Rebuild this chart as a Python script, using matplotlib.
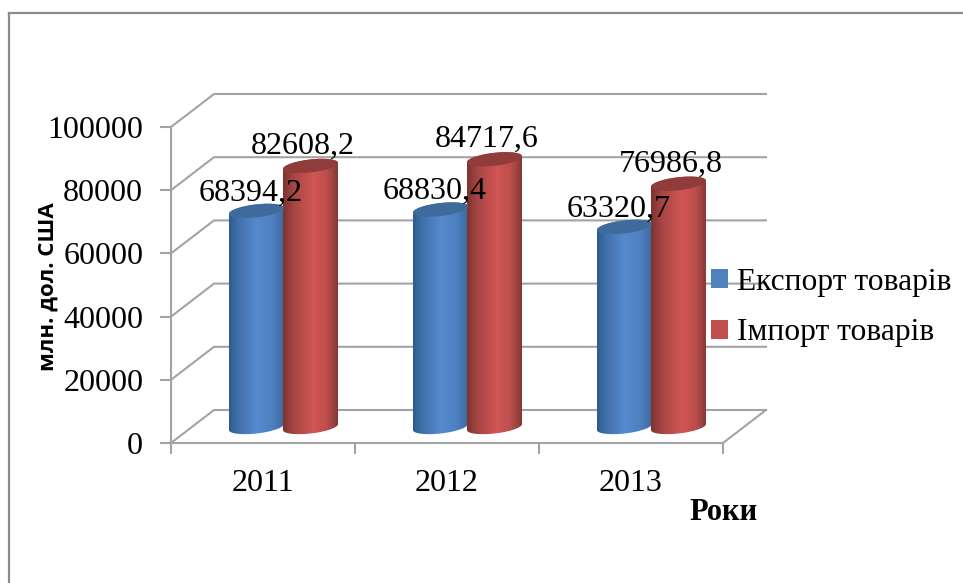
import matplotlib
matplotlib.use('Agg')
import matplotlib.pyplot as plt
import numpy as np
from matplotlib.colors import LinearSegmentedColormap
from matplotlib.lines import Line2D
from matplotlib.patches import Patch, PathPatch
from matplotlib.path import Path

years = ['2011', '2012', '2013']
export_values = [68394.2, 68830.4, 63320.7]
import_values = [82608.2, 84717.6, 76986.8]
export_labels = ['68394,2', '68830,4', '63320,7']
import_labels = ['82608,2', '84717,6', '76986,8']
y_ticks = [0, 20000, 40000, 60000, 80000, 100000]
series_names = ['Експорт товарів', 'Імпорт товарів']

W, H = 963, 583
AX_LEFT, AX_RIGHT, AX_BOTTOM, AX_TOP = 171, 723, 443, 127
GRID = '#a3a3a3'
SERIF = 'Liberation Serif'

# pixels -> data units
PX_X = 3 / (AX_RIGHT - AX_LEFT)
PX_Y = 100000 / (AX_BOTTOM - AX_TOP)
DEPTH_X = 43 * PX_X
DEPTH_Y = 33 * PX_Y
BASE_Y = 16 * PX_Y

blue_cmap = LinearSegmentedColormap.from_list('blue', [(0, '#2f5b8c'), (0.15, '#3f6fa8'), (0.5, '#558ace'), (0.8, '#4d80bf'), (1, '#3c6a9f')])
red_cmap = LinearSegmentedColormap.from_list('red', [(0, '#7c3331'), (0.2, '#a84644'), (0.55, '#cf5654'), (0.8, '#bd4e4c'), (1, '#833735')])
gradient = np.linspace(0, 1, 256).reshape(1, -1)


def ellipse_points(cx, cy, half_w, half_h, tilt, t):
    x = cx + half_w * np.cos(t)
    y = cy + (half_h * np.sin(t) + tilt * np.cos(t)) * PX_Y
    return x, y


def draw_cylinder(ax, cx, value, cmap, top_color):
    half_w = 27.5 * PX_X
    half_h = 6.5
    tilt = 3
    top_y = BASE_Y + value

    # body: lower half of the base, then the upper side of the top
    bx, by = ellipse_points(cx, BASE_Y, half_w, half_h, tilt, np.linspace(np.pi, 2 * np.pi, 50))
    tx, ty = ellipse_points(cx, top_y, half_w, half_h, tilt, np.linspace(0, np.pi, 50))
    body = Path(np.column_stack([np.r_[bx, tx], np.r_[by, ty]]))
    im = ax.imshow(gradient, cmap=cmap, aspect='auto', zorder=3, clip_on=True,
                   extent=[cx - half_w, cx + half_w, BASE_Y - 12 * PX_Y, top_y + 12 * PX_Y])
    patch = PathPatch(body, transform=ax.transData, fc='none', ec='none')
    ax.add_patch(patch)
    im.set_clip_path(patch)

    lx, ly = ellipse_points(cx, top_y, half_w, half_h, tilt, np.linspace(0, 2 * np.pi, 80))
    ax.fill(lx, ly, color=top_color, zorder=4, clip_on=False, lw=0)


fig = plt.figure(figsize=(W / 100, H / 100), dpi=100)
ax = fig.add_axes([AX_LEFT / W, 1 - AX_BOTTOM / H, (AX_RIGHT - AX_LEFT) / W, (AX_BOTTOM - AX_TOP) / H])
ax.patch.set_alpha(0)

# outer frame of the picture
fig.add_artist(Line2D([9 / W, 9 / W], [0, 1 - 13 / H], color='#8c8c8c', lw=1.6))
fig.add_artist(Line2D([9 / W, 1], [1 - 13 / H, 1 - 13 / H], color='#8c8c8c', lw=1.6))

# back wall lines and the side diagonals
for v in y_ticks:
    ax.plot([0, DEPTH_X, 3 + DEPTH_X], [v, v + DEPTH_Y, v + DEPTH_Y], color=GRID, lw=1.5, zorder=1, clip_on=False)
ax.plot([3, 3 + DEPTH_X], [0, DEPTH_Y], color=GRID, lw=1.5, zorder=1, clip_on=False)

for i in range(len(years)):
    center = i + 0.5 + 20.5 * PX_X
    draw_cylinder(ax, center - 27 * PX_X, export_values[i], blue_cmap, '#3f6a9c')
    draw_cylinder(ax, center + 27 * PX_X, import_values[i], red_cmap, '#8f3c3a')
    ax.annotate(export_labels[i], (center - 27 * PX_X, export_values[i] + BASE_Y), xytext=(-6, 10.5), textcoords='offset pixels',
                ha='center', va='baseline', fontsize=23, family=SERIF, zorder=6, annotation_clip=False)
    ax.annotate(import_labels[i], (center + 27 * PX_X, import_values[i] + BASE_Y), xytext=(-8, 12), textcoords='offset pixels',
                ha='center', va='baseline', fontsize=23, family=SERIF, zorder=6, annotation_clip=False)

ax.set_xlim(0, 3)
ax.set_ylim(0, 100000)
for side in ['top', 'right']:
    ax.spines[side].set_visible(False)
for side in ['left', 'bottom']:
    ax.spines[side].set_color(GRID)
    ax.spines[side].set_linewidth(1.5)

ax.set_yticks(y_ticks)
ax.set_yticklabels([str(v) for v in y_ticks], fontsize=23, family=SERIF)
ax.tick_params(axis='y', length=8, width=1.5, color=GRID, pad=12)
ax.set_xticks([0, 1, 2, 3])
ax.set_xticklabels([])
ax.tick_params(axis='x', length=8, width=1.5, color=GRID)
ax.set_xticks([0.5, 1.5, 2.5], labels=years, minor=True, fontsize=23, family=SERIF)
ax.tick_params(axis='x', which='minor', length=0, pad=19)

fig.text(48 / W, 1 - 287 / H, 'млн. дол. США', rotation=90, ha='center', va='center',
         fontsize=16, fontweight='bold', family='Open Sans')
fig.text(723 / W, 1 - 520 / H, 'Роки', ha='center', va='baseline', fontsize=22, fontweight='bold', family=SERIF)

handles = [Patch(color='#4f81bd', lw=0), Patch(color='#c0504d', lw=0)]
fig.legend(handles, series_names, loc='upper left', bbox_to_anchor=(711 / W, 1 - 268 / H), frameon=False,
           prop={'family': SERIF, 'size': 22.7}, handlelength=0.54, handleheight=0.54,
           handletextpad=0.28, labelspacing=0.68, borderpad=0, borderaxespad=0)

fig.savefig('out.png', dpi=100)
